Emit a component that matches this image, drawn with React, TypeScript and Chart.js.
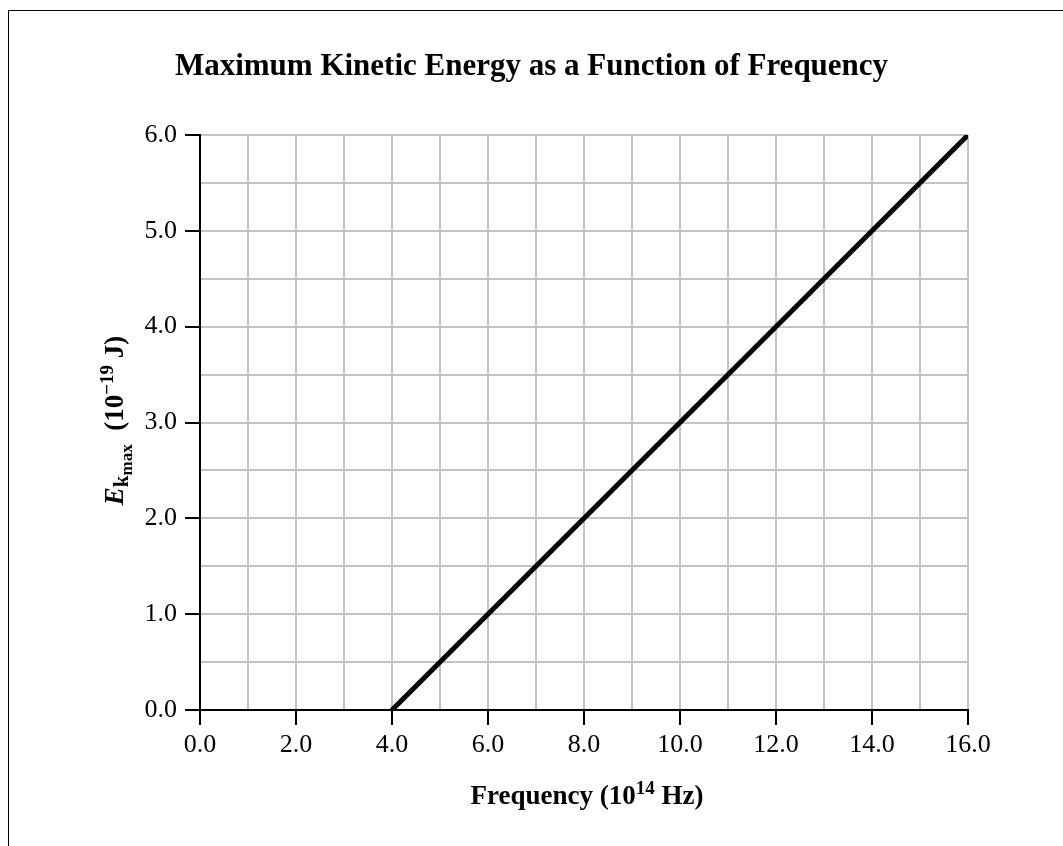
import React, { useEffect, useRef } from 'react';
import { Chart, registerables } from 'chart.js';

Chart.register(...registerables);

// ---- data ----
const frequency = [4.0, 16.0]; // 10^14 Hz
const kineticEnergy = [0.0, 6.0]; // 10^-19 J
const xTickLabels = ['0.0', '2.0', '4.0', '6.0', '8.0', '10.0', '12.0', '14.0', '16.0'];
const yTickLabels = ['0.0', '1.0', '2.0', '3.0', '4.0', '5.0', '6.0'];
const chartTitle = 'Maximum Kinetic Energy as a Function of Frequency';

const FONT = '"Liberation Serif", "Times New Roman", serif';

type Run = { text: string; font: string; dy: number };

function drawRuns(ctx: CanvasRenderingContext2D, runs: Run[], cx: number, y: number) {
  let total = 0;
  const widths = runs.map((r) => {
    ctx.font = r.font;
    const w = ctx.measureText(r.text).width;
    total += w;
    return w;
  });
  let x = cx - total / 2;
  ctx.textAlign = 'left';
  ctx.textBaseline = 'alphabetic';
  runs.forEach((r, i) => {
    ctx.font = r.font;
    ctx.fillText(r.text, x, y + r.dy);
    x += widths[i];
  });
}

export default function App() {
  const ref = useRef<HTMLCanvasElement>(null);

  useEffect(() => {
    const canvas = ref.current;
    if (!canvas) return;

    const titlesPlugin = {
      id: 'customTitles',
      afterDraw(chart: any) {
        const ctx: CanvasRenderingContext2D = chart.ctx;
        const area = chart.chartArea;
        ctx.save();
        ctx.fillStyle = '#000';
        // main title
        ctx.font = `bold 31px ${FONT}`;
        ctx.textAlign = 'center';
        ctx.textBaseline = 'alphabetic';
        ctx.fillText(chartTitle, chart.width / 2, 75);

        // x axis title
        const cx = (area.left + area.right) / 2 + 3;
        drawRuns(
          ctx,
          [
            { text: 'Frequency (10', font: `bold 27px ${FONT}`, dy: 0 },
            { text: '14', font: `bold 19px ${FONT}`, dy: -10 },
            { text: ' Hz)', font: `bold 27px ${FONT}`, dy: 0 },
          ],
          cx,
          804
        );

        // y axis title (rotated)
        const cy = (area.top + area.bottom) / 2 - 2;
        ctx.translate(123, cy);
        ctx.rotate(-Math.PI / 2);
        drawRuns(
          ctx,
          [
            { text: 'E', font: `italic bold 27px ${FONT}`, dy: 0 },
            { text: 'k', font: `bold 21px ${FONT}`, dy: 5 },
            { text: 'max', font: `bold 17px ${FONT}`, dy: 9 },
            { text: '  (10', font: `bold 27px ${FONT}`, dy: 0 },
            { text: '\u221219', font: `bold 19px ${FONT}`, dy: -10 },
            { text: ' J)', font: `bold 27px ${FONT}`, dy: 0 },
          ],
          0,
          0
        );
        ctx.restore();
      },
    };

    const chart = new Chart(canvas, {
      type: 'scatter',
      data: {
        datasets: [
          {
            data: frequency.map((f, i) => ({ x: f, y: kineticEnergy[i] })),
            showLine: true,
            borderColor: '#000',
            backgroundColor: '#000',
            borderWidth: 5,
            borderCapStyle: 'round',
            pointRadius: 0,
            pointHoverRadius: 0,
          },
        ],
      },
      options: {
        responsive: false,
        animation: false,
        layout: { padding: { left: 0, top: 135, right: 95, bottom: 76 } },
        plugins: {
          legend: { display: false },
          tooltip: { enabled: false },
          title: { display: false },
        },
        scales: {
          x: {
            type: 'linear',
            min: 0,
            max: 16,
            afterFit: (scale: any) => {
              scale.height = 60;
            },
            border: { display: true, color: '#000', width: 2 },
            grid: {
              color: '#c4c4c4',
              lineWidth: 2,
              drawTicks: true,
              tickLength: 15,
              tickWidth: 2,
              tickColor: (c: any) =>
                xTickLabels.includes(Number(c.tick?.value).toFixed(1)) ? '#000' : 'rgba(0,0,0,0)',
            },
            ticks: {
              stepSize: 1,
              autoSkip: false,
              maxRotation: 0,
              color: '#000',
              padding: 5,
              font: { family: FONT, size: 26 },
              callback: (v: any) => {
                const s = Number(v).toFixed(1);
                return xTickLabels.includes(s) ? s : '';
              },
            },
          },
          y: {
            type: 'linear',
            min: 0,
            max: 6,
            afterFit: (scale: any) => {
              scale.width = 200;
            },
            border: { display: true, color: '#000', width: 2 },
            grid: {
              color: '#c4c4c4',
              lineWidth: 2,
              drawTicks: true,
              tickLength: 15,
              tickWidth: 2,
              tickColor: (c: any) =>
                yTickLabels.includes(Number(c.tick?.value).toFixed(1)) ? '#000' : 'rgba(0,0,0,0)',
            },
            ticks: {
              stepSize: 0.5,
              autoSkip: false,
              color: '#000',
              padding: 8,
              font: { family: FONT, size: 26 },
              callback: (v: any) => {
                const s = Number(v).toFixed(1);
                return yTickLabels.includes(s) ? s : '';
              },
            },
          },
        },
      },
      plugins: [titlesPlugin],
    } as any);

    return () => chart.destroy();
  }, []);

  return (
    <div>
      <div
        style={{
          position: 'absolute',
          left: 8,
          top: 10,
          width: 1055,
          height: 836,
          boxSizing: 'border-box',
          borderTop: '1px solid #000',
          borderLeft: '1px solid #000',
        }}
      />
      <canvas
        ref={ref}
        width={1063}
        height={846}
        style={{ position: 'absolute', left: 0, top: 0, width: 1063, height: 846 }}
      />
    </div>
  );
}
